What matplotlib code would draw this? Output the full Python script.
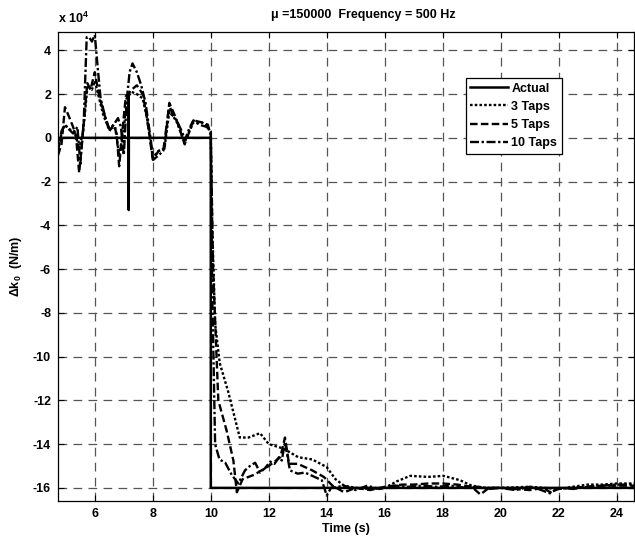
import matplotlib
matplotlib.use('Agg')
import matplotlib.pyplot as plt

plt.rcParams['font.family'] = ['Liberation Sans', 'DejaVu Sans']
plt.rcParams['axes.unicode_minus'] = False

# data (y values in units of 1e4 N/m)
t_actual = [4.73, 7.16, 7.165, 7.17, 7.175, 10.0, 10.0, 24.6]
y_actual = [0, 0, 2.0, -3.3, 0, 0, -16, -16]

t_3taps = [4.73, 4.85, 4.97, 5.1, 5.3, 5.46, 5.6, 5.75, 5.9, 6.0, 6.15, 6.3, 6.5, 6.7, 6.84,
           7.0, 7.1, 7.27, 7.45, 7.65, 7.8, 8.0, 8.2, 8.4, 8.57, 8.8, 9.1, 9.4, 9.7, 9.9,
           10.0, 10.05, 10.15, 10.31, 10.6, 11.0, 11.3, 11.7, 12.0, 12.5, 13.02, 13.5, 14.0,
           14.3, 14.6, 15.0, 15.5, 16.0, 16.42, 16.88, 17.5, 18.03, 18.6, 19.0, 19.5, 20,
           21, 22, 23, 23.5, 24, 24.6]
y_3taps = [-0.6, 0.2, 0.6, 0.4, 0.3, -0.5, 0.3, 2.4, 2.2, 2.6, 1.8, 1.0, 0.4, 0.5, -0.8,
           0.4, 1.8, 2.1, 2.0, 1.8, 0.9, -0.9, -0.6, -0.5, 1.2, 0.8, -0.2, 0.7, 0.7, 0.5,
           0.2, -4.0, -8.5, -10.3, -11.6, -13.7, -13.7, -13.5, -14.0, -14.2, -14.6, -14.7,
           -15.05, -15.6, -15.9, -16.0, -16.05, -16.0, -15.7, -15.45, -15.5, -15.45, -15.65,
           -15.9, -16.0, -16.0, -15.95, -16.05, -15.85, -15.85, -15.8, -15.8]

t_5taps = [4.73, 4.85, 4.97, 5.1, 5.25, 5.35, 5.46, 5.6, 5.74, 5.85, 6.0, 6.15, 6.3, 6.5,
           6.65, 6.75, 6.84, 6.95, 7.07, 7.15, 7.27, 7.45, 7.65, 7.8, 8.0, 8.2, 8.4, 8.57,
           8.8, 9.1, 9.4, 9.7, 9.9, 10.0, 10.08, 10.26, 10.55, 10.78, 10.9, 11.1, 11.5,
           12.0, 12.4, 12.56, 12.7, 13.0, 13.5, 13.9, 14.2, 14.6, 15.0, 15.5, 16.0, 16.3,
           16.6, 17.0, 17.5, 18.0, 18.5, 19.0, 19.3, 19.6, 20.0, 20.5, 21.0, 21.5, 21.7,
           22.0, 22.5, 23.0, 23.5, 24.0, 24.6]
y_5taps = [-0.8, -0.3, 1.4, 1.0, 0.5, 0.1, -1.6, 0.4, 2.5, 2.2, 3.0, 1.9, 1.2, 0.3, 0.6,
           0.2, -1.3, 0.3, 1.9, 2.0, 2.2, 2.4, 2.0, 0.9, -1.0, -0.6, -0.5, 1.6, 0.9, -0.3,
           0.8, 0.7, 0.6, 0.1, -6.0, -12.0, -13.4, -14.75, -16.2, -15.6, -15.4, -15.0,
           -14.6, -13.7, -14.9, -14.9, -15.2, -15.5, -15.9, -16.2, -16.0, -16.1, -15.95,
           -15.9, -15.85, -15.85, -15.8, -15.8, -15.85, -15.95, -16.3, -16.0, -16.0,
           -16.05, -16.1, -16.0, -16.2, -16.05, -16.0, -15.95, -15.9, -15.9, -15.9]

t_10taps = [4.73, 4.85, 4.97, 5.1, 5.25, 5.4, 5.5, 5.62, 5.72, 5.8, 5.9, 6.0, 6.1, 6.2,
            6.35, 6.5, 6.65, 6.8, 6.9, 7.0, 7.1, 7.2, 7.3, 7.45, 7.6, 7.75, 7.9, 8.02, 8.2,
            8.36, 8.57, 8.7, 8.82, 9.0, 9.11, 9.25, 9.4, 9.6, 9.86, 10.0, 10.05, 10.15,
            10.3, 10.5, 10.72, 10.95, 11.18, 11.35, 11.53, 11.7, 11.87, 12.05, 12.2, 12.35,
            12.45, 12.56, 12.73, 13.0, 13.25, 13.5, 13.83, 14.0, 14.15, 14.3, 14.6, 15.0,
            15.4, 15.8, 16.1, 16.4, 16.8, 17.3, 17.8, 18.3, 18.8, 19.2, 19.6, 20.0, 20.5,
            21.0, 21.3, 21.7, 22.0, 22.5, 23.0, 23.5, 24.0, 24.6]
y_10taps = [-0.6, 0.3, 0.6, 0.4, 0.2, 0.5, -1.2, 0.8, 4.6, 4.6, 4.4, 4.7, 3.2, 1.8, 1.0,
            0.4, 0.6, 0.9, 0.5, -0.8, 1.7, 3.0, 3.4, 3.0, 2.4, 1.6, 0.2, -1.0, -0.8, -0.6,
            1.5, 1.0, 0.8, 0.3, -0.1, 0.4, 0.8, 0.6, 0.5, 0.3, -7.0, -14.0, -14.7, -14.85,
            -15.4, -15.8, -15.2, -15.0, -14.85, -15.3, -15.1, -14.8, -14.9, -14.6, -14.75,
            -13.9, -15.2, -15.35, -15.3, -15.45, -15.65, -16.35, -16.0, -15.97, -15.9,
            -16.1, -15.9, -16.05, -16.0, -15.9, -15.95, -15.9, -15.95, -15.9, -16.0,
            -15.95, -16.05, -16.0, -16.1, -15.95, -16.05, -16.25, -16.0, -16.05, -15.95,
            -15.9, -15.85, -15.85]

x_ticks = [6, 8, 10, 12, 14, 16, 18, 20, 22, 24]
y_ticks = [4, 2, 0, -2, -4, -6, -8, -10, -12, -14, -16]

fig = plt.figure(figsize=(6.35, 5.38), dpi=100)
ax = fig.add_axes([58 / 635, 1 - 501 / 538, 576 / 635, 469.3 / 538])

ax.plot(t_actual, y_actual, color='black', lw=1.8, ls='-', label='Actual')
ax.plot(t_3taps, y_3taps, color='black', lw=1.7, ls=(0, (1.1, 0.9)), label='3 Taps')
ax.plot(t_5taps, y_5taps, color='black', lw=1.7, ls=(0, (3.2, 1.4)), label='5 Taps')
ax.plot(t_10taps, y_10taps, color='black', lw=1.7, ls=(0, (3.8, 1.1, 1, 1.1)), label='10 Taps')

ax.set_xlim(4.73, 24.6)
ax.set_ylim(-16.6, 4.85)
ax.set_xticks(x_ticks)
ax.set_yticks(y_ticks)
ax.tick_params(direction='in', top=True, right=True, length=4, width=0.8,
               labelsize=9, pad=5)
for lab in ax.get_xticklabels() + ax.get_yticklabels():
    lab.set_fontweight('bold')
ax.grid(True, color='#555555', lw=0.9, ls=(0, (7, 5)))
for pos in ['bottom', 'top', 'left', 'right']:
    ax.spines[pos].set_linewidth(0.9)
    ax.spines[pos].set_color('black')

ax.set_xlabel('Time (s)', fontsize=9, fontweight='bold', labelpad=2)
ax.set_ylabel('Δk$_{\\mathregular{0}}$  (N/m)', fontsize=9, fontweight='bold', labelpad=6)

fig.text(363 / 635, 1 - 15 / 538, 'μ =150000  Frequency = 500 Hz', ha='center', va='center',
         fontsize=9, fontweight='bold')
fig.text(58 / 635, 1 - 18 / 538, 'x 10$^{\\mathregular{4}}$', ha='left', va='center',
         fontsize=9, fontweight='bold')

leg = ax.legend(loc='upper left', bbox_to_anchor=(0.708, 0.901), borderaxespad=0,
                fancybox=False, edgecolor='black', framealpha=1, handlelength=3.0,
                handletextpad=0.3, labelspacing=0.5, borderpad=0.35,
                prop={'weight': 'bold', 'size': 9})
leg.get_frame().set_linewidth(0.9)

fig.savefig('out.png', dpi=100)
